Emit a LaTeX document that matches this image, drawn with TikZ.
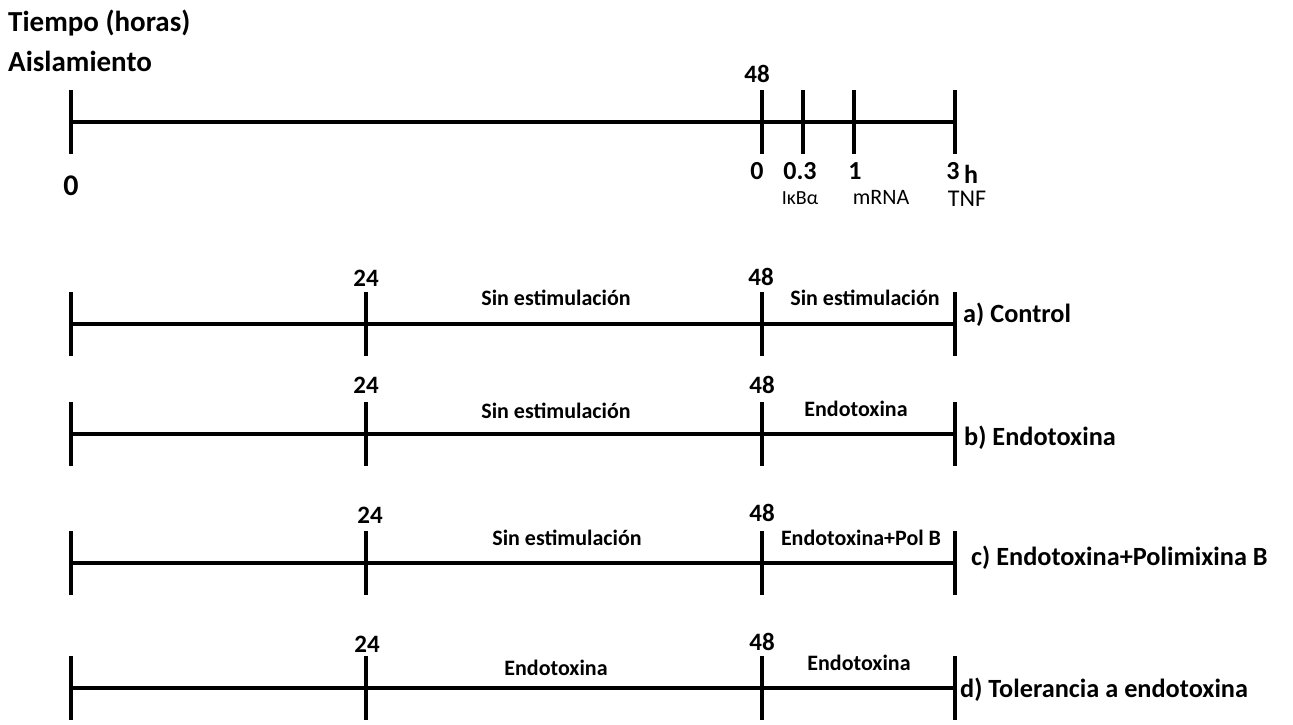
\documentclass[tikz,border=0pt]{standalone}
\usepackage{fontspec}
\setmainfont{Carlito}
\begin{document}
\begin{tikzpicture}[x=1pt,y=-1pt,
  axis/.style={line width=4.5pt},
  hdr/.style={font=\bfseries\fontsize{29}{33}\selectfont, anchor=base west, inner sep=0pt},
  rowlbl/.style={font=\bfseries\fontsize{26.3}{30}\selectfont, anchor=base west, inner sep=0pt},
  num/.style={font=\bfseries\fontsize{25}{29}\selectfont, anchor=base, inner sep=0pt},
  hnum/.style={font=\bfseries\fontsize{26}{30}\selectfont, anchor=base, inner sep=0pt},
  seg/.style={font=\bfseries\fontsize{22}{26}\selectfont, anchor=base, inner sep=0pt},
  sub/.style={font=\fontsize{22}{26}\selectfont, anchor=base, inner sep=0pt}]
\useasboundingbox (0,0) rectangle (1293,724);

% tick marks: vertical bars through a named point
\newcommand\tickbar[1]{\draw[axis] ([yshift=32pt]#1) -- ([yshift=-32pt]#1);}

% ---- isolation time line ----
\node[hdr] (tiempo) at (8,31) {Tiempo (horas)};
\node[hdr] (aisl) at (8,71) {Aislamiento};
\coordinate (t0) at (71,122);
\coordinate (t48) at (762,122);
\coordinate (t03) at (803,122);
\coordinate (t1) at (854,122);
\coordinate (t3) at (955,122);
\draw[axis] (t0) -- (t3);
\foreach \c in {t0,t48,t03,t1,t3} {\tickbar{\c}}
\node[font=\bfseries\fontsize{30}{34}\selectfont, anchor=base, inner sep=0pt] (z0) at (71,195) {0};
\node[num] (l48) at (757,82) {48};
\node[hnum] (h0) at (757,179) {0};
\node[hnum] (h03) at (800,179) {0.3};
\node[hnum] (h1) at (855,179) {1};
\node[hnum] (h3) at (953,179) {3};
\node[hnum, text depth=0pt] (hh) at (971,183) {h};
\node[sub, font=\fontsize{20}{24}\selectfont] (ikb) at (800,204) {IκBα};
\node[sub] (mrna) at (881,204) {mRNA};
\node[sub, font=\fontsize{24}{28}\selectfont, text height=14pt] (tnf) at (967,206) {TNF};

% ---- a) Control ----
\coordinate (a0) at (71,324);
\coordinate (a24) at (366,324);
\coordinate (a48) at (762,324);
\coordinate (aE) at (955,324);
\draw[axis] (a0) -- (aE);
\foreach \c in {a0,a24,a48,aE} {\tickbar{\c}}
\node[num] (a24l) at (366,286) {24};
\node[num] (a48l) at (761,285) {48};
\node[seg] (a1) at (556,305) {Sin estimulación};
\node[seg] (a2) at (865,305) {Sin estimulación};
\node[rowlbl] (al) at (963,322) {a) Control};

% ---- b) Endotoxina ----
\coordinate (b0) at (71,434);
\coordinate (b24) at (366,434);
\coordinate (b48) at (762,434);
\coordinate (bE) at (955,434);
\draw[axis] (b0) -- (bE);
\foreach \c in {b0,b24,b48,bE} {\tickbar{\c}}
\node[num] (b24l) at (366,393) {24};
\node[num] (b48l) at (762,393) {48};
\node[seg] (b1) at (556,418) {Sin estimulación};
\node[seg] (b2) at (856,416) {Endotoxina};
\node[rowlbl] (bl) at (964,445) {b) Endotoxina};

% ---- c) Endotoxina+Polimixina B ----
\coordinate (c0) at (71,563);
\coordinate (c24) at (366,563);
\coordinate (c48) at (762,563);
\coordinate (cE) at (955,563);
\draw[axis] (c0) -- (cE);
\foreach \c in {c0,c24,c48,cE} {\tickbar{\c}}
\node[num] (c24l) at (370,523) {24};
\node[num] (c48l) at (762,521) {48};
\node[seg] (c1) at (567,545) {Sin estimulación};
\node[seg] (c2) at (861,545) {Endotoxina+Pol B};
\node[rowlbl] (cl) at (971,565) {c) Endotoxina+Polimixina B};

% ---- d) Tolerancia a endotoxina ----
\coordinate (d0) at (71,688);
\coordinate (d24) at (366,688);
\coordinate (d48) at (762,688);
\coordinate (dE) at (955,688);
\draw[axis] (d0) -- (dE);
\foreach \c in {d0,d24,d48,dE} {\tickbar{\c}}
\node[num] (d24l) at (367,652) {24};
\node[num] (d48l) at (762,650) {48};
\node[seg] (d1) at (556,675) {Endotoxina};
\node[seg] (d2) at (859,670) {Endotoxina};
\node[rowlbl] (dl) at (960,697) {d) Tolerancia a endotoxina};
\end{tikzpicture}
\end{document}
